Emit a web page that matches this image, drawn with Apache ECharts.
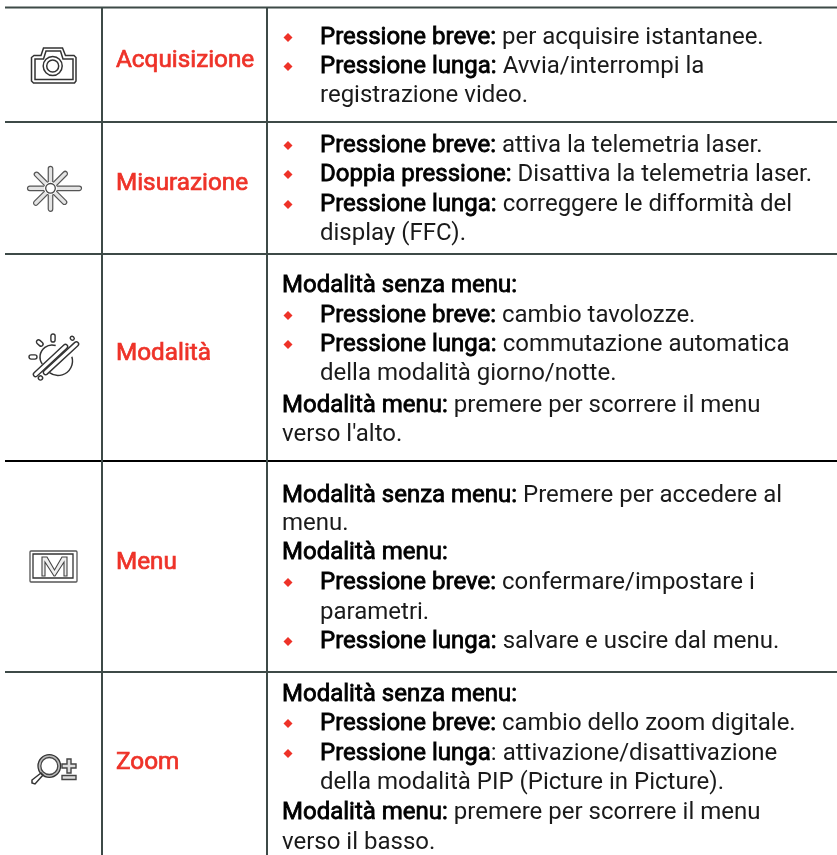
<!DOCTYPE html>
<html>
<head>
<meta charset="utf-8">
<script src="https://cdn.jsdelivr.net/npm/echarts@6/dist/echarts.min.js"></script>
<style>
  html, body { margin: 0; padding: 0; background: #fff; }
  #main { width: 837px; height: 855px; }
</style>
</head>
<body>
<div id="main"></div>
<script>
// table content, one list per row: [kind, bold part, regular part]
// kind: b = bullet, c = continuation of a bullet, p = plain
const rowLabels = ['Acquisizione', 'Misurazione', 'Modalità', 'Menu', 'Zoom'];

const acquisizioneLines = [
  ['b', 'Pressione breve:', ' per acquisire istantanee.'],
  ['b', 'Pressione lunga:', ' Avvia/interrompi la'],
  ['c', '', 'registrazione video.']
];
const misurazioneLines = [
  ['b', 'Pressione breve:', ' attiva la telemetria laser.'],
  ['b', 'Doppia pressione:', ' Disattiva la telemetria laser.'],
  ['b', 'Pressione lunga:', ' correggere le difformità del'],
  ['c', '', 'display (FFC).']
];
const modalitaLines = [
  ['p', 'Modalità senza menu:', ''],
  ['b', 'Pressione breve:', ' cambio tavolozze.'],
  ['b', 'Pressione lunga:', ' commutazione automatica'],
  ['c', '', 'della modalità giorno/notte.'],
  ['p', 'Modalità menu:', ' premere per scorrere il menu'],
  ['p', '', "verso l'alto."]
];
const menuLines = [
  ['p', 'Modalità senza menu:', ' Premere per accedere al'],
  ['p', '', 'menu.'],
  ['p', 'Modalità menu:', ''],
  ['b', 'Pressione breve:', ' confermare/impostare i'],
  ['c', '', 'parametri.'],
  ['b', 'Pressione lunga:', ' salvare e uscire dal menu.']
];
const zoomLines = [
  ['p', 'Modalità senza menu:', ''],
  ['b', 'Pressione breve:', ' cambio dello zoom digitale.'],
  ['b', 'Pressione lunga', ': attivazione/disattivazione'],
  ['c', '', 'della modalità PIP (Picture in Picture).'],
  ['p', 'Modalità menu:', ' premere per scorrere il menu'],
  ['p', '', 'verso il basso.']
];
const rowLines = [acquisizioneLines, misurazioneLines, modalitaLines, menuLines, zoomLines];

// layout
const hRules = [7.5, 122, 254, 461, 672];
const vRules = [102, 267];
const labelCenters = [61, 184, 354, 563, 763];
const lineCenters = [
  [38, 67, 96],
  [146, 175, 205, 234],
  [286, 316, 345, 374, 406, 435],
  [496, 524, 553, 583, 613, 642],
  [695, 724, 754, 783, 813, 843]
];

const RED = '#ee3228';
const RULE = '#3d4a47';
const FONT = 'Roboto';

const elements = [];

hRules.forEach((y, i) => {
  elements.push({
    type: 'line',
    shape: { x1: 5, y1: y, x2: 837, y2: y },
    style: { stroke: i === 3 ? '#000' : RULE, lineWidth: 2 }
  });
});
vRules.forEach((x) => {
  elements.push({
    type: 'line',
    shape: { x1: x, y1: 7, x2: x, y2: 855 },
    style: { stroke: RULE, lineWidth: 2 }
  });
});

rowLabels.forEach((label, i) => {
  elements.push({
    type: 'text',
    x: 116,
    y: labelCenters[i],
    style: {
      text: label,
      fill: RED,
      stroke: RED,
      lineWidth: 0.7,
      font: '400 24.3px ' + FONT,
      verticalAlign: 'middle'
    }
  });

  rowLines[i].forEach((line, j) => {
    const y = lineCenters[i][j];
    let rich = '';
    if (line[1]) rich += '{b|' + line[1] + '}';
    if (line[2]) rich += '{r|' + line[2] + '}';
    if (line[0] === 'b') {
      const r = 4.5;
      elements.push({
        type: 'polygon',
        shape: { points: [[288, y - 0.5 - r], [288 + r, y - 0.5], [288, y - 0.5 + r], [288 - r, y - 0.5]] },
        style: { fill: RED }
      });
    }
    elements.push({
      type: 'text',
      x: line[0] === 'p' ? 282 : 320,
      y: y,
      style: {
        text: rich,
        verticalAlign: 'middle',
        rich: {
          b: { font: '400 24px ' + FONT, fill: '#000', stroke: '#000', lineWidth: 0.8 },
          r: { font: '400 24px ' + FONT, fill: '#1a1a1a' }
        }
      }
    });
  });
});

// icons
const ICON = { fill: 'none', stroke: '#333', lineWidth: 1.5 };
const TUBE = { fill: '#fff', stroke: '#333', lineWidth: 1.4 };
const SHADED = { fill: '#ddd', stroke: '#444', lineWidth: 1.4 };

function poly(points, style) {
  elements.push({ type: 'polygon', shape: { points: points }, style: style || ICON });
}
function ring(cx, cy, r, style) {
  elements.push({ type: 'circle', shape: { cx: cx, cy: cy, r: r }, style: style || ICON });
}
// rounded bar between two points
function tube(x1, y1, x2, y2, w, style) {
  const len = Math.hypot(x2 - x1, y2 - y1);
  elements.push({
    type: 'rect',
    x: x1, y: y1,
    rotation: -Math.atan2(y2 - y1, x2 - x1),
    shape: { x: 0, y: -w / 2, width: len, height: w, r: w / 2 },
    style: style || TUBE
  });
}

// camera
poly([[34, 55.5], [41, 55.5], [43.5, 48], [62.5, 48], [65.5, 55.5], [74, 55.5], [76, 57.5], [76, 81], [74.5, 83], [33.5, 83], [31.5, 81], [31.5, 57.5]]);
poly([[35, 59], [43.5, 59], [46, 51], [60.5, 51], [63, 59], [73, 59], [73, 79.5], [35, 79.5]]);
ring(52.7, 66, 9.5, { fill: '#fff', stroke: '#333', lineWidth: 1.5 });
ring(52.7, 66, 6);

// laser, [angle, length]
[[0, 31], [45, 23], [90, 22], [135, 22], [180, 23], [225, 23], [270, 23], [315, 22]].forEach((ray) => {
  const a = ray[0] * Math.PI / 180;
  tube(50.5, 188.3, 50.5 + ray[1] * Math.cos(a), 188.3 - ray[1] * Math.sin(a), 4.5, { fill: '#e4e4e4', stroke: '#555', lineWidth: 1.2 });
});
ring(50.5, 188.3, 6, { fill: '#fff', stroke: '#fff', lineWidth: 1 });
ring(50.5, 188.3, 4.8, { fill: '#fff', stroke: '#444', lineWidth: 1.3 });

// mode
elements.push({ type: 'arc', shape: { cx: 52, cy: 357, r: 12, startAngle: Math.PI * 0.8, endAngle: Math.PI * 1.6 }, style: ICON });
elements.push({ type: 'arc', shape: { cx: 58, cy: 361, r: 14.5, startAngle: -0.3, endAngle: Math.PI * 0.7 }, style: ICON });
tube(53, 334, 53, 342, 4.2);
tube(37, 340.5, 42.5, 345.5, 4.2);
tube(29, 357, 37, 357, 4.2);
tube(71, 339.5, 73.5, 337, 4.2);
tube(39, 379.5, 42, 376.5, 4.2);
tube(34, 376, 67, 345, 4.5);
tube(44, 374, 78, 342.5, 4.5);

// menu
elements.push({ type: 'rect', shape: { x: 30, y: 551, width: 47, height: 31, r: 1 }, style: { fill: 'none', stroke: '#555', lineWidth: 1.3 } });
elements.push({ type: 'rect', shape: { x: 33, y: 554, width: 40, height: 24 }, style: { fill: 'none', stroke: '#333', lineWidth: 1.3 } });
poly([[42, 576], [42, 557], [47, 557], [54.5, 570], [62, 557], [67, 557], [67, 576], [64, 576], [64, 562], [55, 576], [54, 576], [45, 562], [45, 576]], { fill: '#eee', stroke: '#444', lineWidth: 1.1 });

// zoom
ring(49.3, 766, 10, { fill: 'none', stroke: '#bbb', lineWidth: 2.5 });
ring(49.3, 766, 11.3, { fill: 'none', stroke: '#333', lineWidth: 1.3 });
ring(49.3, 766, 8.5, { fill: 'none', stroke: '#444', lineWidth: 1.3 });
poly([[41, 773], [32, 780], [32, 783], [35, 784], [43, 775]]);
poly([[67, 759], [71, 759], [71, 764], [76, 764], [76, 768], [71, 768], [71, 773], [67, 773], [67, 768], [62, 768], [62, 764], [67, 764]], SHADED);
elements.push({ type: 'rect', shape: { x: 62, y: 775.5, width: 14, height: 4 }, style: SHADED });

const chart = echarts.init(document.getElementById('main'));
chart.setOption({
  animation: false,
  backgroundColor: '#fff',
  graphic: { elements: elements }
});
</script>
</body>
</html>
